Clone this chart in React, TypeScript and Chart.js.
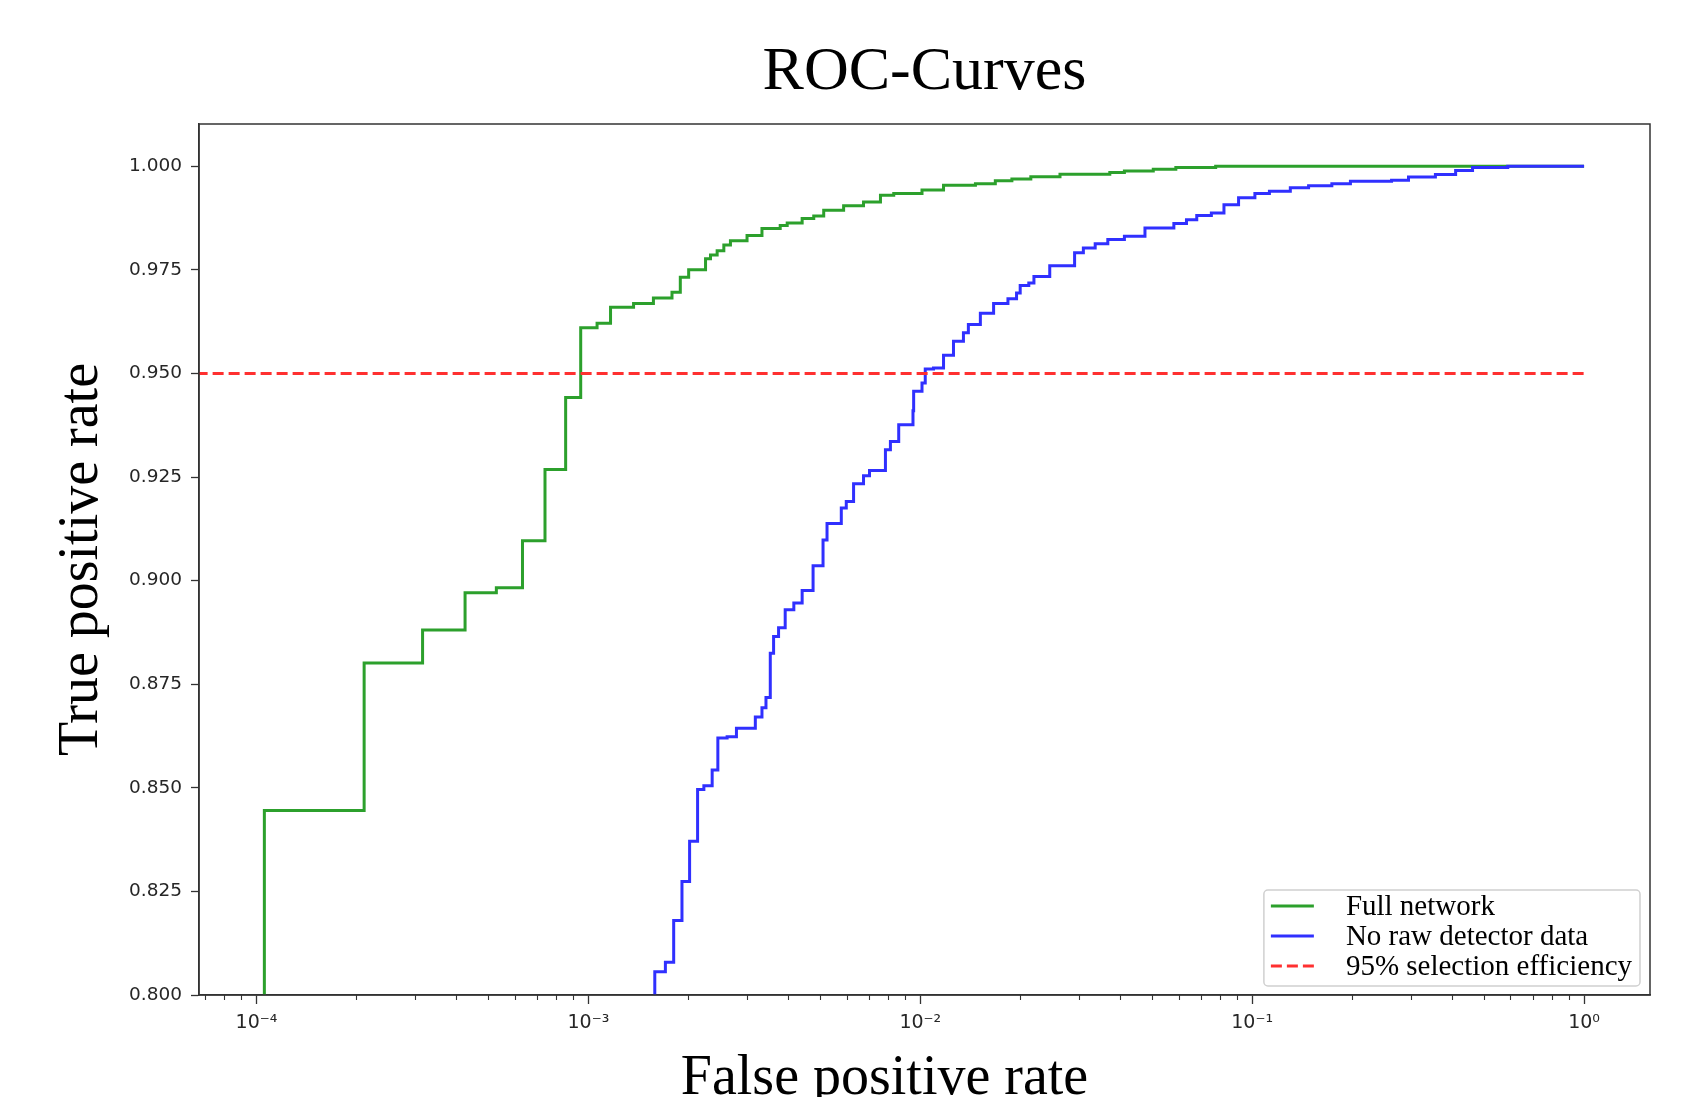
import React, { useEffect, useRef } from 'react';
import { Chart, registerables } from 'chart.js';

Chart.register(...registerables);

// ---------- text ----------
const TITLE = 'ROC-Curves';
const X_TITLE = 'False positive rate';
const Y_TITLE = 'True positive rate';
const SERIES_LABELS = ['Full network', 'No raw detector data', '95% selection efficiency'];

// ---------- data (step points: x where the curve jumps, y after the jump) ----------
const FULL_FPR = [
  1.056e-4, 1.056e-4, 2.11e-4, 3.165e-4, 4.25e-4, 5.28e-4, 6.33e-4, 7.40e-4, 8.54e-4, 9.48e-4,
  1.062e-3, 1.166e-3, 1.368e-3, 1.570e-3, 1.786e-3, 1.892e-3, 2.005e-3, 2.254e-3, 2.333e-3, 2.443e-3,
  2.559e-3, 2.679e-3, 3.006e-3, 3.334e-3, 3.784e-3, 3.972e-3, 4.406e-3, 4.775e-3, 5.117e-3, 5.875e-3,
  6.745e-3, 7.586e-3, 8.318e-3, 1.012e-2, 1.175e-2, 1.466e-2, 1.683e-2, 1.888e-2, 2.153e-2, 2.636e-2,
  3.724e-2, 4.121e-2, 5.035e-2, 5.888e-2, 7.762e-2, 1.0,
];
const FULL_TPR = [
  0.79, 0.8445, 0.8801, 0.8881, 0.8971, 0.8983, 0.9096, 0.9268, 0.9442, 0.9610,
  0.9621, 0.9660, 0.9669, 0.9682, 0.9696, 0.9732, 0.9750, 0.9777, 0.9786, 0.9796,
  0.9810, 0.9820, 0.9833, 0.9850, 0.9857, 0.9863, 0.9874, 0.9880, 0.9894, 0.9905,
  0.9914, 0.9930, 0.9934, 0.9943, 0.9954, 0.9958, 0.9965, 0.99695, 0.99744, 0.99807,
  0.99848, 0.99888, 0.99928, 0.99969, 1.0, 1.0,
];

const NORAW_FPR = [
  1.585e-3, 1.585e-3, 1.706e-3, 1.807e-3, 1.914e-3, 2.018e-3, 2.133e-3, 2.228e-3, 2.360e-3, 2.455e-3,
  2.618e-3, 2.793e-3, 3.184e-3, 3.334e-3, 3.428e-3, 3.532e-3, 3.614e-3, 3.741e-3, 3.917e-3, 4.159e-3,
  4.406e-3, 4.753e-3, 5.093e-3, 5.236e-3, 5.781e-3, 5.984e-3, 6.295e-3, 6.745e-3, 7.031e-3, 7.852e-3,
  8.128e-3, 8.610e-3, 9.506e-3, 9.550e-3, 1.012e-2, 1.035e-2, 1.096e-2, 1.175e-2, 1.259e-2, 1.349e-2,
  1.396e-2, 1.517e-2, 1.663e-2, 1.837e-2, 1.950e-2, 2.0e-2, 2.123e-2, 2.2e-2, 2.455e-2, 2.917e-2,
  3.1e-2, 3.365e-2, 3.673e-2, 4.121e-2, 4.753e-2, 5.808e-2, 6.339e-2, 6.808e-2, 7.534e-2, 8.222e-2,
  9.099e-2, 0.1019, 0.1127, 0.1303, 0.1479, 0.1738, 0.1977, 0.2630, 0.2958, 0.3565,
  0.4102, 0.4613, 0.5888, 1.0,
];
const NORAW_TPR = [
  0.79, 0.8056, 0.8079, 0.8180, 0.8274, 0.8371, 0.8496, 0.8505, 0.8543, 0.8620,
  0.8623, 0.8644, 0.8671, 0.8693, 0.8718, 0.8825, 0.8865, 0.8886, 0.8930, 0.8946,
  0.8976, 0.9036, 0.9098, 0.9138, 0.9175, 0.9191, 0.9234, 0.9253, 0.9266, 0.9316,
  0.9336, 0.9376, 0.9410, 0.9457, 0.9477, 0.9511, 0.9513, 0.9544, 0.9578, 0.9598,
  0.9618, 0.9645, 0.9669, 0.9680, 0.9694, 0.9712, 0.9718, 0.9734, 0.9760, 0.9791,
  0.9803, 0.9813, 0.9823, 0.9831, 0.9851, 0.9862, 0.9871, 0.9881, 0.9887, 0.9907,
  0.9924, 0.9934, 0.9940, 0.9948, 0.9953, 0.9958, 0.9964, 0.9966, 0.9974, 0.9980,
  0.9990, 0.99969, 1.0, 1.0,
];

const EFF_FPR = [1e-5, 1.0];
const EFF_TPR = [0.95, 0.95];

// ---------- axes ----------
const X_MIN = 6.71e-5;
const X_MAX = 1.58;
const Y_MIN = 0.8;
const Y_MAX = 1.0102;
const X_TICKS = [1e-4, 1e-3, 1e-2, 1e-1, 1];
const X_TICK_LABELS = ['10⁻⁴', '10⁻³', '10⁻²', '10⁻¹', '10⁰'];
const X_MINOR_MULT = [2, 3, 4, 5, 6, 7, 8, 9];
const X_MINOR_DECADES = [-5, -4, -3, -2, -1, 0];
const Y_TICKS = [0.8, 0.825, 0.85, 0.875, 0.9, 0.925, 0.95, 0.975, 1.0];

const COLORS = ['#2ca02c', '#3030ff', '#ff3030'];
const SERIF = "'Liberation Serif', 'Times New Roman', serif";
const SANS = "'DejaVu Sans', sans-serif";

const toPoints = (xs: number[], ys: number[]) => xs.map((x, i) => ({ x, y: ys[i] }));

const framePlugin = {
  id: 'frame',
  afterDraw(chart: any) {
    const { ctx, chartArea: ca } = chart;
    ctx.save();
    ctx.strokeStyle = '#333';
    ctx.lineWidth = 1.5;
    ctx.strokeRect(ca.left, ca.top, ca.right - ca.left, ca.bottom - ca.top);
    ctx.restore();
  },
};

const minorTickPlugin = {
  id: 'minorTicks',
  afterDraw(chart: any) {
    const s = chart.scales.x;
    const { ctx, chartArea: ca } = chart;
    ctx.save();
    ctx.strokeStyle = '#333';
    ctx.lineWidth = 1.1;
    for (const e of X_MINOR_DECADES) {
      for (const m of X_MINOR_MULT) {
        const v = m * Math.pow(10, e);
        if (v < s.min || v > s.max) continue;
        const px = Math.round(s.getPixelForValue(v)) + 0.5;
        ctx.beginPath();
        ctx.moveTo(px, ca.bottom);
        ctx.lineTo(px, ca.bottom + 5);
        ctx.stroke();
      }
    }
    ctx.restore();
  },
};

const legendPlugin = {
  id: 'mplLegend',
  afterDraw(chart: any) {
    const { ctx, chartArea: ca } = chart;
    const ds = chart.data.datasets;
    ctx.save();
    ctx.font = `29px ${SERIF}`;
    let maxW = 0;
    ds.forEach((d: any) => { maxW = Math.max(maxW, ctx.measureText(d.label).width); });
    const boxW = 7 + 43 + 33 + maxW + 7;
    const rowH = 30;
    const boxH = 16 + rowH * (ds.length - 1) + 20;
    const right = ca.right - 10;
    const bottom = ca.bottom - 9;
    const left = right - boxW;
    const top = bottom - boxH;
    ctx.beginPath();
    (ctx as any).roundRect(left, top, boxW, boxH, 4);
    ctx.fillStyle = 'rgba(255,255,255,0.85)';
    ctx.fill();
    ctx.strokeStyle = '#d0d0d0';
    ctx.lineWidth = 1.5;
    ctx.stroke();
    ds.forEach((d: any, i: number) => {
      const y = top + 16 + i * rowH;
      ctx.beginPath();
      ctx.setLineDash(d.borderDash || []);
      ctx.strokeStyle = d.borderColor;
      ctx.lineWidth = 3;
      ctx.moveTo(left + 7, y);
      ctx.lineTo(left + 50, y);
      ctx.stroke();
      ctx.setLineDash([]);
      ctx.fillStyle = '#000';
      ctx.textBaseline = 'middle';
      ctx.textAlign = 'left';
      ctx.fillText(d.label, left + 82, y + 1);
    });
    ctx.restore();
  },
};

const xTitlePlugin = {
  id: 'xTitle',
  afterDraw(chart: any) {
    const { ctx, chartArea: ca } = chart;
    ctx.save();
    ctx.font = `56px ${SERIF}`;
    ctx.fillStyle = '#000';
    ctx.textAlign = 'center';
    ctx.textBaseline = 'alphabetic';
    ctx.fillText(X_TITLE, (ca.left + ca.right) / 2 - 40, chart.height - 3);
    ctx.restore();
  },
};

export default function App() {
  const ref = useRef<HTMLCanvasElement>(null);

  useEffect(() => {
    if (!ref.current) return;
    const lineBase = { pointRadius: 0, borderWidth: 3, fill: false, tension: 0, borderJoinStyle: 'miter' };
    const chart = new Chart(ref.current, {
      type: 'line',
      data: {
        datasets: [
          { ...lineBase, label: SERIES_LABELS[0], data: toPoints(FULL_FPR, FULL_TPR), borderColor: COLORS[0], stepped: 'before', order: 3 },
          { ...lineBase, label: SERIES_LABELS[1], data: toPoints(NORAW_FPR, NORAW_TPR), borderColor: COLORS[1], stepped: 'before', order: 2 },
          { ...lineBase, label: SERIES_LABELS[2], data: toPoints(EFF_FPR, EFF_TPR), borderColor: COLORS[2], borderDash: [11, 5], order: 1 },
        ] as any,
      },
      options: {
        responsive: false,
        animation: false,
        events: [],
        layout: { padding: { left: 0, right: 47, top: 0, bottom: 0 } },
        plugins: {
          legend: { display: false },
          tooltip: { enabled: false },
          title: {
            display: true,
            text: TITLE,
            fullSize: false,
            color: '#000',
            font: { family: SERIF, size: 62, weight: 'normal', lineHeight: 1 },
            padding: { top: 42, bottom: 20 },
          },
        },
        scales: {
          x: {
            type: 'logarithmic',
            min: X_MIN,
            max: X_MAX,
            bounds: 'data',
            position: 'bottom',
            afterFit: (s: any) => { s.height = 102; },
            afterBuildTicks: (s: any) => { s.ticks = X_TICKS.map((v) => ({ value: v })); },
            ticks: {
              autoSkip: false,
              maxRotation: 0,
              minRotation: 0,
              padding: 8,
              color: '#262626',
              font: { family: SANS, size: 19 },
              callback: (_v: any, i: number) => X_TICK_LABELS[i],
            },
            grid: { display: true, drawOnChartArea: false, drawTicks: true, tickLength: 9, tickColor: '#333', tickWidth: 1.3 },
            border: { display: true, color: '#333', width: 1.5 },
            title: { display: false },
          },
          y: {
            type: 'linear',
            min: Y_MIN,
            max: Y_MAX,
            bounds: 'data',
            position: 'left',
            afterFit: (s: any) => { s.width = 199; },
            afterBuildTicks: (s: any) => { s.ticks = Y_TICKS.map((v) => ({ value: v })); },
            ticks: {
              autoSkip: false,
              padding: 9,
              color: '#262626',
              font: { family: SANS, size: 18.5 },
              callback: (v: any) => Number(v).toFixed(3),
            },
            grid: { display: true, drawOnChartArea: false, drawTicks: true, tickLength: 8, tickColor: '#333', tickWidth: 1.3 },
            border: { display: true, color: '#333', width: 1.5 },
            title: {
              display: true,
              text: Y_TITLE,
              color: '#000',
              font: { family: SERIF, size: 56, weight: 'normal', lineHeight: 1 },
              padding: { top: 54, bottom: 0 },
            },
          },
        },
      } as any,
      plugins: [framePlugin, minorTickPlugin, legendPlugin, xTitlePlugin],
    });
    return () => chart.destroy();
  }, []);

  return (
    <canvas
      ref={ref}
      width={1697}
      height={1097}
      style={{ position: 'fixed', left: 0, top: 0, width: 1697, height: 1097, background: '#fff' }}
    />
  );
}
